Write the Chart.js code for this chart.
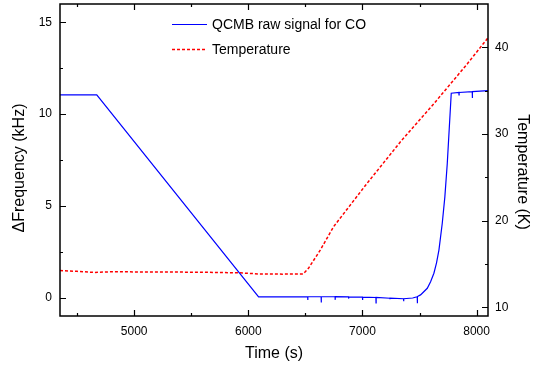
<!DOCTYPE html>
<html>
<head>
<meta charset="utf-8">
<script src="https://cdn.jsdelivr.net/npm/chart.js@4.4.1/dist/chart.umd.min.js"></script>
<style>
  body { margin: 0; background: #fff; }
</style>
</head>
<body>
<canvas id="chart" width="544" height="365"></canvas>
<script>
// ---- values ----
const qcmbTime = [4350, 4672, 6090,
  6520, 6521, 6522, 6638, 6639, 6640, 6760, 6761, 6762, 6878, 6879, 6880,
  7000, 7001, 7002, 7118, 7119, 7120, 7240, 7241, 7242, 7360, 7361, 7362,
  7440, 7480, 7481, 7482, 7509, 7568, 7597, 7626, 7649, 7670, 7699, 7722, 7743, 7778,
  7845, 7846, 7847, 7962, 7963, 7964, 8100];
const qcmbFreq = [11.05, 11.05, 0.04,
  0.05, -0.13, 0.05, 0.05, -0.26, 0.05, 0.05, -0.12, 0.05, 0.04, -0.05, 0.04,
  0.03, -0.13, 0.03, 0.01, -0.28, 0.01, -0.03, -0.08, -0.03, -0.06, -0.2, -0.06,
  -0.02, 0.05, -0.3, 0.06, 0.15, 0.51, 0.87, 1.33, 1.9, 2.59, 4.04, 5.49, 7.3, 11.14,
  11.18, 11.05, 11.18, 11.23, 10.88, 11.23, 11.28];

const tempTime = [4350, 4500, 4650, 4800, 5200, 5600, 5927, 6090, 6300, 6480,
  6527, 6630, 6747, 7040, 7333, 7626, 7919, 8100];
const tempKelvin = [14.25, 14.15, 14.03, 14.1, 14.08, 14.05, 13.98, 13.85, 13.83, 13.85,
  14.5, 16.6, 19.3, 24.3, 29.1, 33.5, 38.1, 41.1];

const timeTicks = [5000, 6000, 7000, 8000];
const timeMinor = [4500, 5500, 6500, 7500];
const freqTicks = [0, 5, 10, 15];
const freqMinor = [2.5, 7.5, 12.5];
const tempTicks = [10, 20, 30, 40];
const tempMinor = [15, 25, 35];

const FONT = "'Liberation Sans', Arial, sans-serif";

// frame, inward ticks, axis titles and legend
const framePlugin = {
  id: "frame",
  afterDraw(chart) {
    const ctx = chart.ctx;
    const a = chart.chartArea;
    const sx = chart.scales.x, sy = chart.scales.y, sy2 = chart.scales.y2;

    ctx.save();
    ctx.strokeStyle = "#000";
    ctx.lineWidth = 1.5;
    ctx.strokeRect(a.left, a.top, a.right - a.left, a.bottom - a.top);

    ctx.lineWidth = 1.2;
    ctx.beginPath();
    const xTick = (v, len) => {
      const p = Math.round(sx.getPixelForValue(v)) + 0.5;
      ctx.moveTo(p, a.bottom); ctx.lineTo(p, a.bottom - len);
      ctx.moveTo(p, a.top); ctx.lineTo(p, a.top + len);
    };
    const yTick = (v, len) => {
      const p = Math.round(sy.getPixelForValue(v)) + 0.5;
      ctx.moveTo(a.left, p); ctx.lineTo(a.left + len, p);
    };
    const y2Tick = (v, len) => {
      const p = Math.round(sy2.getPixelForValue(v)) + 0.5;
      ctx.moveTo(a.right, p); ctx.lineTo(a.right - len, p);
    };
    timeTicks.forEach(v => xTick(v, 6));
    timeMinor.forEach(v => xTick(v, 3));
    freqTicks.forEach(v => yTick(v, 6));
    freqMinor.forEach(v => yTick(v, 3));
    tempTicks.forEach(v => y2Tick(v, 6));
    tempMinor.forEach(v => y2Tick(v, 3));
    ctx.stroke();

    // axis titles
    ctx.fillStyle = "#000";
    ctx.font = "16px " + FONT;
    ctx.textAlign = "center";
    ctx.textBaseline = "alphabetic";
    ctx.fillText("Time (s)", (a.left + a.right) / 2, 358);

    ctx.save();
    ctx.translate(24, 168);
    ctx.rotate(-Math.PI / 2);
    ctx.fillText("\u0394Frequency (kHz)", 0, 0);
    ctx.restore();

    ctx.save();
    ctx.translate(518, 172);
    ctx.rotate(Math.PI / 2);
    ctx.fillText("Temperature (K)", 0, 0);
    ctx.restore();

    // legend
    ctx.font = "14px " + FONT;
    ctx.textAlign = "left";
    ctx.textBaseline = "middle";
    chart.data.datasets.forEach((ds, i) => {
      const yy = 24 + i * 25;
      ctx.strokeStyle = ds.borderColor;
      ctx.lineWidth = ds.borderWidth;
      ctx.setLineDash(ds.borderDash || []);
      ctx.beginPath();
      ctx.moveTo(172, yy + 0.5);
      ctx.lineTo(207, yy + 0.5);
      ctx.stroke();
      ctx.setLineDash([]);
      ctx.fillText(ds.label, 212, yy + 1);
    });
    ctx.restore();
  }
};

const tickFont = { family: FONT, size: 12 };

// fixed axis sizes so the plot box lands where it is in the figure
const fixX = s => { s.height = 49; s.paddingLeft = 0; s.paddingRight = 0; };
const fixY = w => s => { s.width = w; s.paddingTop = 0; s.paddingBottom = 0; };

new Chart(document.getElementById("chart"), {
  type: "line",
  data: {
    datasets: [
      {
        label: "QCMB raw signal for CO",
        data: qcmbTime.map((t, i) => ({ x: t, y: qcmbFreq[i] })),
        yAxisID: "y",
        borderColor: "#0000ff",
        borderWidth: 1.2,
        pointRadius: 0,
        tension: 0
      },
      {
        label: "Temperature",
        data: tempTime.map((t, i) => ({ x: t, y: tempKelvin[i] })),
        yAxisID: "y2",
        borderColor: "#ff0000",
        borderWidth: 1.5,
        borderDash: [3, 2],
        pointRadius: 0,
        tension: 0
      }
    ]
  },
  options: {
    responsive: false,
    animation: false,
    layout: { padding: { top: 4, left: 0, right: 0, bottom: 0 } },
    plugins: { legend: { display: false }, tooltip: { enabled: false } },
    scales: {
      x: {
        type: "linear",
        min: 4350,
        max: 8100,
        afterBuildTicks: s => { s.ticks = timeTicks.map(v => ({ value: v })); },
        afterFit: fixX,
        grid: { display: false, drawTicks: false },
        border: { display: false },
        ticks: { padding: 8, color: "#000", font: tickFont, maxRotation: 0, autoSkip: false,
                 callback: v => String(v) }
      },
      y: {
        position: "left",
        min: -1,
        max: 16,
        afterBuildTicks: s => { s.ticks = freqTicks.map(v => ({ value: v })); },
        afterFit: fixY(60),
        grid: { display: false, drawTicks: false },
        border: { display: false },
        ticks: { padding: 8, color: "#000", font: tickFont, callback: v => String(v) }
      },
      y2: {
        position: "right",
        min: 9,
        max: 45,
        afterBuildTicks: s => { s.ticks = tempTicks.map(v => ({ value: v })); },
        afterFit: fixY(56),
        grid: { display: false, drawTicks: false },
        border: { display: false },
        ticks: { padding: 7, color: "#000", font: tickFont, callback: v => String(v) }
      }
    }
  },
  plugins: [framePlugin]
});
</script>
</body>
</html>
